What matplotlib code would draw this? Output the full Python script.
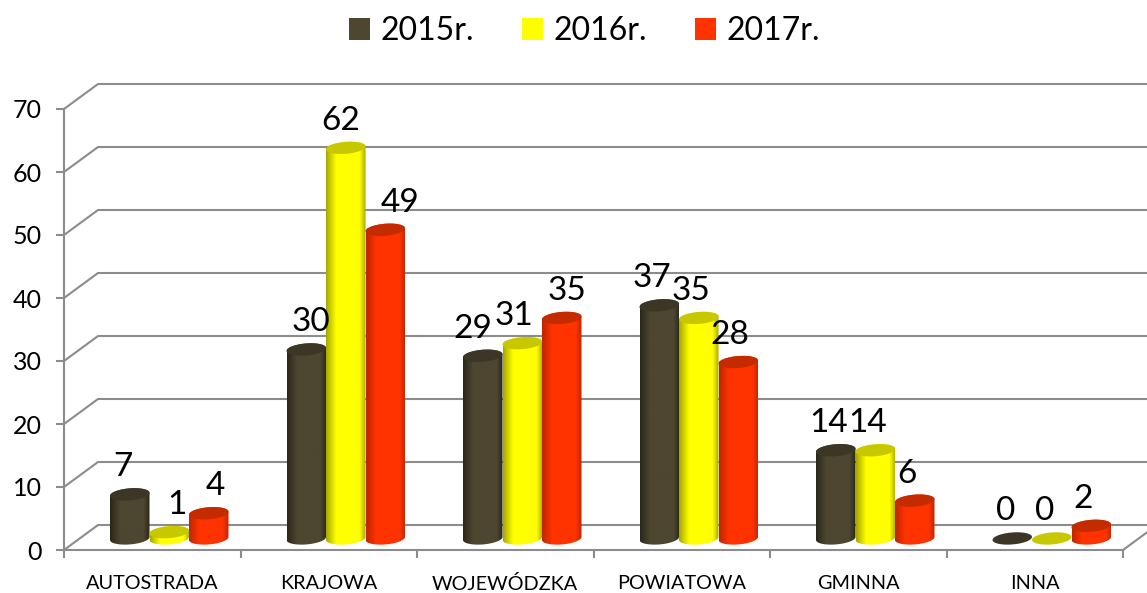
#!/usr/bin/env python

import numpy as np
import matplotlib
matplotlib.use('Agg')
import matplotlib.pyplot as plt
from matplotlib.colors import LinearSegmentedColormap
from matplotlib.patches import Patch, Polygon

categories = ['AUTOSTRADA', 'KRAJOWA', 'WOJEWÓDZKA', 'POWIATOWA', 'GMINNA', 'INNA']
years = ['2015r.', '2016r.', '2017r.']
v2015 = [7, 30, 29, 37, 14, 0]
v2016 = [1, 62, 31, 35, 14, 0]
v2017 = [4, 49, 35, 28, 6, 2]
series = [v2015, v2016, v2017]

main_colors = ['#4D4630', '#FFFF00', '#FF3300']
edge_colors = ['#2B2719', '#A8A800', '#BF2600']
top_colors = ['#3B3625', '#C8C800', '#C42B00']
grid_color = '#8C8C8C'

# label nudges in pixels, labels were moved by hand in the original
label_dx = [[-7, 8, 7], [5, -5, 15], [-10, -8, 5],
            [-7, -8, -8], [-7, -8, -8], [-7, -7, -8]]

W, H = 1147, 593
px_x = 176.5            # pixels per category
px_y = 6.3              # pixels per unit
depth_x = 34 / px_x
depth_y = 25 / px_y
bar_w = 39.5 / px_x
rx = bar_w / 2
ry = 6 / px_y
tilt = 1.5 / px_y


def outline(cx, y, lo, hi):
    t = np.linspace(lo, hi, 60)
    return np.column_stack([cx + rx * np.cos(t), y + ry * np.sin(t) + tilt * np.cos(t)])


def cylinder(ax, cx, base, value, main, edge, top):
    if value > 0:
        # the body: lower half of the base ellipse and upper half of the top one
        body = np.vstack([outline(cx, base, np.pi, 2 * np.pi),
                          outline(cx, base + value, 0, np.pi)])
        cmap = LinearSegmentedColormap.from_list(
            'c', [(0, edge), (0.25, main), (0.85, main), (1, edge)])
        im = ax.imshow(np.linspace(0, 1, 64)[None, :], cmap=cmap, aspect='auto',
                       extent=(cx - rx, cx + rx, base - 2 * ry, base + value + 2 * ry),
                       zorder=3, interpolation='bilinear')
        im.set_clip_path(Polygon(body, transform=ax.transData))
    cap = outline(cx, base + value, 0, 2 * np.pi)
    ax.add_patch(Polygon(cap, closed=True, fc=top, ec='none', zorder=3))


def main():
    plt.rcParams['font.family'] = ['Lato', 'DejaVu Sans']

    fig = plt.figure(figsize=(W / 100, H / 100), dpi=100)
    ax = fig.add_axes([64 / W, 1 - 550 / H, 1059 / W, 441 / H])
    ax.patch.set_alpha(0)

    for s in ['top', 'right']:
        ax.spines[s].set_visible(False)
    for s in ['left', 'bottom']:
        ax.spines[s].set_color(grid_color)
        ax.spines[s].set_linewidth(1.5)

    n = len(categories)
    xs = np.arange(n)

    # back wall and floor
    for v in range(0, 80, 10):
        ax.plot([-0.5, -0.5 + depth_x, n - 0.5 + depth_x], [v, v + depth_y, v + depth_y],
                color=grid_color, lw=1.5, clip_on=False, zorder=1)
    ax.plot([n - 0.5, n - 0.5 + depth_x], [0, depth_y], color=grid_color, lw=1.5,
            clip_on=False, zorder=1)

    base = depth_y / 2 - 0.15
    for j, vals in enumerate(series):
        for i, v in enumerate(vals):
            cx = xs[i] + depth_x / 2 + (j - 1) * bar_w
            cylinder(ax, cx, base, v, main_colors[j], edge_colors[j], top_colors[j])
            ax.annotate(str(v), xy=(cx, base + v), xytext=(label_dx[i][j] * 0.72, 19.5),
                        textcoords='offset points', ha='center', va='center',
                        fontsize=24, color='black', zorder=5)

    ax.set_xlim(-0.5, n - 0.5)
    ax.set_ylim(0, 70)

    ax.set_yticks(range(0, 80, 10))
    ax.tick_params(axis='y', labelsize=18, color=grid_color, width=1.5, length=6, pad=10)
    ax.set_xticks(np.arange(n + 1) - 0.5)
    ax.set_xticklabels([])
    ax.tick_params(axis='x', which='major', color=grid_color, width=1.5, length=6)
    ax.set_xticks(xs, minor=True)
    ax.set_xticklabels(categories, minor=True)
    ax.tick_params(axis='x', which='minor', length=0, labelsize=14.3, pad=18)

    handles = [Patch(fc=c, ec='none', label=y) for c, y in zip(main_colors, years)]
    fig.legend(handles=handles, loc='center', bbox_to_anchor=(584.5 / W, 1 - 31 / H),
               ncol=3, frameon=False, fontsize=23, handlelength=0.66, handleheight=0.66,
               handletextpad=0.33, columnspacing=1.5)

    fig.savefig('out.png', dpi=100)


if __name__ == '__main__':
    main()
